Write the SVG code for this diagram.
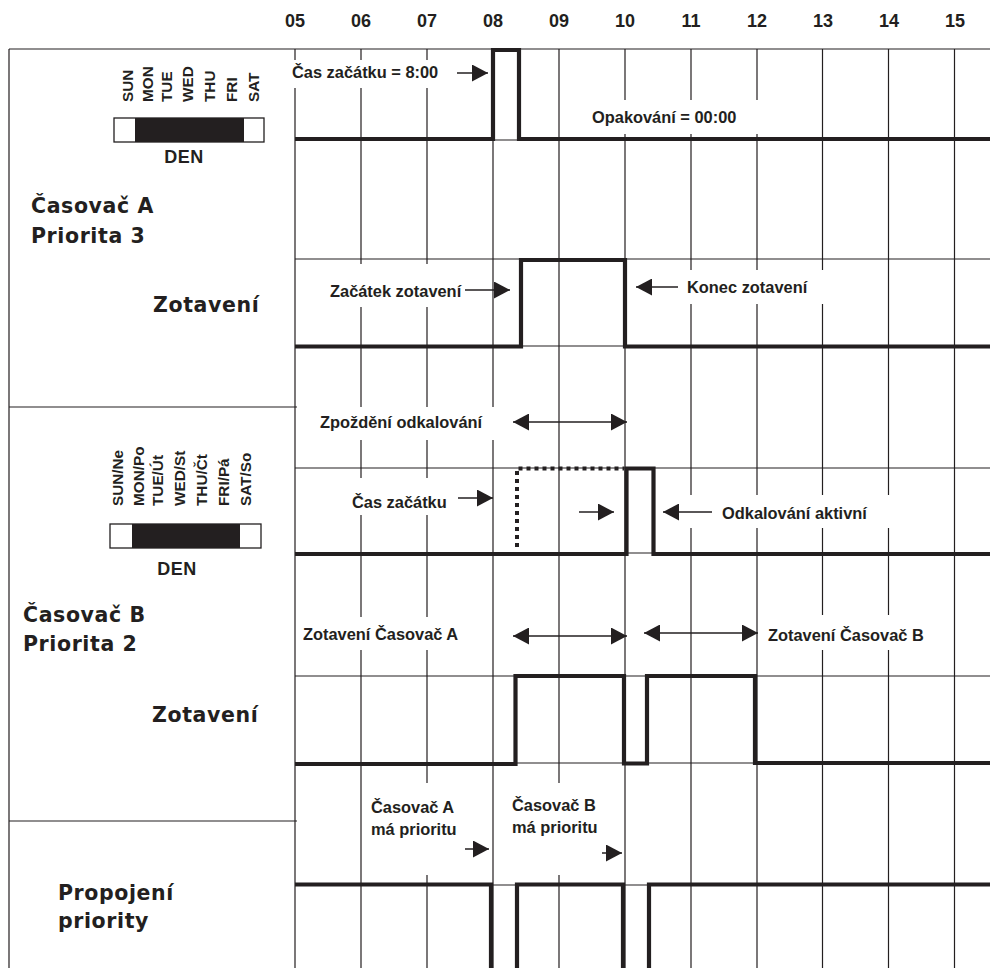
<svg xmlns="http://www.w3.org/2000/svg" width="990" height="968" viewBox="0 0 990 968">
<style>
.grid{stroke:#231f20;stroke-width:1.2;fill:none}
.sig{stroke:#231f20;stroke-width:4.2;fill:none;stroke-linejoin:miter}
.dot{stroke:#231f20;stroke-width:4;fill:none;stroke-dasharray:4 4}
.bg{fill:#fff}
.t{font-family:"Liberation Sans",Arial,sans-serif;font-weight:bold;fill:#231f20}
.hr{font-size:18px;text-anchor:middle}
.lb{font-size:16.4px}
.big{font-family:"DejaVu Sans","Liberation Sans",sans-serif;font-size:20.5px;letter-spacing:0.6px}
.day{font-size:15.3px}
.den{font-size:18px;text-anchor:middle;letter-spacing:0.5px}
.arr{stroke:#231f20;stroke-width:1.5;fill:none}
.bar{fill:#fff;stroke:#231f20;stroke-width:1.3}
.blk{fill:#231f20}
</style>
<defs>
<marker id="ah" markerUnits="userSpaceOnUse" markerWidth="16" markerHeight="17" refX="16" refY="8.5" orient="auto-start-reverse" viewBox="0 0 16 17"><path d="M0,0 L16,8.5 L0,17 z" fill="#231f20"/></marker>
</defs>
<rect width="990" height="968" fill="#fff"/>

<g id="hours" class="t hr">
<text x="295" y="27">05</text><text x="361" y="27">06</text><text x="427" y="27">07</text><text x="493" y="27">08</text><text x="559" y="27">09</text><text x="625" y="27">10</text><text x="691" y="27">11</text><text x="757" y="27">12</text><text x="823" y="27">13</text><text x="889" y="27">14</text><text x="955" y="27">15</text>
</g>

<g id="grid" class="grid">
<path d="M9,49 H990 M9,49 V968 M9,407 H297 M9,821 H297"/>
<path d="M295,49 V968 M361,49 V968 M427,49 V968 M493,49 V968 M559,49 V968 M625,49 V968 M691,49 V968 M757,49 V968 M822.5,49 V968 M888.5,49 V968 M954.5,49 V968"/>
<path d="M295,140 H990 M295,259 H990 M295,346 H990 M295,468 H990 M295,553 H990 M295,676 H990 M295,763 H990 M295,885 H990"/>
</g>

<g id="label-bg" class="bg">
<rect x="288" y="60" width="184" height="28"/>
<rect x="588" y="100" width="170" height="34"/>
<rect x="325" y="264" width="145" height="43"/>
<rect x="630" y="270" width="195" height="34"/>
<rect x="315" y="407" width="182" height="33"/>
<rect x="345" y="478" width="125" height="37"/>
<rect x="660" y="495" width="231" height="33"/>
<rect x="300" y="617" width="170" height="33"/>
<rect x="762" y="615" width="168" height="35"/>
<rect x="365" y="783" width="123" height="92"/>
<rect x="505" y="783" width="115" height="92"/>
</g>

<g id="signals">
<path id="sig-timer-a" class="sig" d="M295,139 H493 V50 H519 V139 H990"/>
<path id="sig-zotaveni-a" class="sig" d="M295,346.5 H521 V260 H625 V346.5 H990"/>
<path id="sig-timer-b-delay" class="dot" d="M517,547 V468.5 H624"/>
<path id="sig-timer-b" class="sig" d="M295,554 H626.5 V468.5 H653.5 V554 H990"/>
<path id="sig-zotaveni-b" class="sig" d="M295,764 H515.5 V676 H624 V763.5 H647 V676 H755 V763 H990"/>
<path id="sig-priority" class="sig" d="M295,884.5 H491 V968 M517,968 V884.5 H623 V968 M649,968 V884.5 H990"/>
</g>

<g id="timer-a-panel">
<g class="t day">
<text transform="translate(133,102) rotate(-90)">SUN</text>
<text transform="translate(153,102) rotate(-90)">MON</text>
<text transform="translate(172,102) rotate(-90)">TUE</text>
<text transform="translate(193,102) rotate(-90)">WED</text>
<text transform="translate(215,102) rotate(-90)">THU</text>
<text transform="translate(237,102) rotate(-90)">FRI</text>
<text transform="translate(259,102) rotate(-90)">SAT</text>
</g>
<rect class="bar" x="114" y="118" width="150" height="24"/>
<rect class="blk" x="135" y="118" width="109" height="24"/>
<text class="t den" x="184" y="163">DEN</text>
<text class="t big" x="31" y="213">Časovač A</text>
<text class="t big" x="31" y="243">Priorita 3</text>
<text class="t big" x="153" y="312">Zotavení</text>
</g>

<g id="timer-b-panel">
<g class="t day">
<text transform="translate(123,506) rotate(-90)">SUN/Ne</text>
<text transform="translate(144,506) rotate(-90)">MON/Po</text>
<text transform="translate(163,506) rotate(-90)">TUE/Út</text>
<text transform="translate(185,506) rotate(-90)">WED/St</text>
<text transform="translate(207,506) rotate(-90)">THU/Čt</text>
<text transform="translate(229,506) rotate(-90)">FRI/Pá</text>
<text transform="translate(251,506) rotate(-90)">SAT/So</text>
</g>
<rect class="bar" x="110" y="524" width="151" height="24"/>
<rect class="blk" x="132" y="524" width="108" height="24"/>
<text class="t den" x="177" y="575">DEN</text>
<text class="t big" x="23" y="622">Časovač B</text>
<text class="t big" x="23" y="651">Priorita 2</text>
<text class="t big" x="152" y="722">Zotavení</text>
</g>

<g id="priority-panel">
<text class="t big" x="58" y="900">Propojení</text>
<text class="t big" x="58" y="928">priority</text>
</g>

<g id="chart-labels" class="t lb">
<text x="292" y="78">Čas začátku = 8:00</text>
<text x="592" y="123">Opakování = 00:00</text>
<text x="330" y="297">Začátek zotavení</text>
<text x="687" y="293">Konec zotavení</text>
<text x="320" y="428">Zpoždění odkalování</text>
<text x="352" y="508">Čas začátku</text>
<text x="722" y="519">Odkalování aktivní</text>
<text x="303" y="640">Zotavení Časovač A</text>
<text x="768" y="641">Zotavení Časovač B</text>
<text x="371" y="813">Časovač A</text>
<text x="371" y="835">má prioritu</text>
<text x="512" y="811">Časovač B</text>
<text x="512" y="833">má prioritu</text>
</g>

<g id="connectors" class="arr">
<path d="M457,73 H488" marker-end="url(#ah)"/>
<path d="M465,290 H510" marker-end="url(#ah)"/>
<path d="M678,287 H636" marker-end="url(#ah)"/>
<path d="M513,422 H627" marker-start="url(#ah)" marker-end="url(#ah)"/>
<path d="M458,498 H493" marker-end="url(#ah)"/>
<path d="M579,512 H614" marker-end="url(#ah)"/>
<path d="M712,512 H663" marker-end="url(#ah)"/>
<path d="M513,636 H627" marker-start="url(#ah)" marker-end="url(#ah)"/>
<path d="M644,633 H758" marker-start="url(#ah)" marker-end="url(#ah)"/>
<path d="M465,849 H489" marker-end="url(#ah)"/>
<path d="M602,853 H622" marker-end="url(#ah)"/>
</g>
</svg>
